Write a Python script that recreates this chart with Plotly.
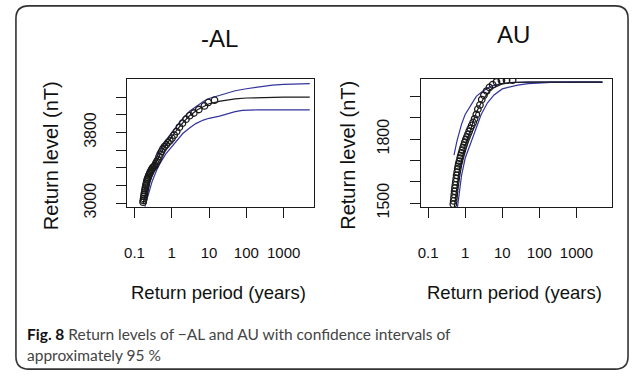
import plotly.graph_objects as go

W, H = 634, 384

# ---------------- data ----------------
# Left panel (-AL): empirical return levels
al_period = [0.170, 0.173, 0.176, 0.179, 0.182, 0.186, 0.190, 0.194, 0.198, 0.203,
             0.208, 0.213, 0.219, 0.225, 0.232, 0.239, 0.247, 0.256, 0.266, 0.277,
             0.289, 0.302, 0.317, 0.334, 0.353, 0.374, 0.398, 0.425, 0.455, 0.49,
             0.53, 0.58, 0.64, 0.71, 0.79, 0.89, 1.01, 1.16, 1.35, 1.6,
             1.93, 2.4, 3.0, 3.9, 5.3, 7.5, 9.5, 14]
al_level = [3010, 3030, 3050, 3075, 3095, 3115, 3140, 3160, 3180, 3200,
            3220, 3240, 3260, 3275, 3290, 3305, 3320, 3335, 3350, 3365,
            3380, 3395, 3405, 3415, 3425, 3450, 3470, 3490, 3525, 3555,
            3585, 3615, 3640, 3660, 3685, 3705, 3735, 3770, 3810, 3860,
            3905, 3950, 3990, 4020, 4060, 4100, 4140, 4165]

# Left panel fitted curve and confidence bounds
al_fit_period = [0.17, 0.2, 0.25, 0.3, 0.4, 0.5, 0.7, 1, 1.5, 2, 3, 5, 7, 10, 20, 30,
                 50, 100, 200, 500, 1000, 2000, 5000]
al_fit = [2990, 3100, 3250, 3360, 3480, 3560, 3660, 3750, 3850, 3910, 3990, 4060, 4095,
          4125, 4155, 4168, 4180, 4190, 4195, 4199, 4200, 4200, 4200]
al_upper = [3000, 3120, 3280, 3390, 3520, 3600, 3710, 3800, 3900, 3960, 4040, 4110, 4150,
            4185, 4225, 4250, 4272, 4295, 4315, 4335, 4345, 4350, 4354]
al_low_period = [0.19, 0.2, 0.25, 0.3, 0.4, 0.5, 0.7, 1, 1.6, 2, 3, 4.4, 7, 10, 19, 30,
                 50, 78, 100, 200, 1000, 5000]
al_lower = [2960, 2990, 3140, 3250, 3380, 3460, 3560, 3640, 3750, 3790, 3850, 3900, 3940,
            3960, 3985, 4010, 4035, 4050, 4053, 4055, 4055, 4055]

# Right panel (AU): empirical return levels
au_period = [0.48, 0.49, 0.50, 0.51, 0.52, 0.53, 0.545, 0.56, 0.575, 0.59,
             0.61, 0.63, 0.65, 0.67, 0.70, 0.73, 0.76, 0.80, 0.84, 0.88,
             0.93, 0.98, 1.04, 1.11, 1.19, 1.28, 1.38, 1.50, 1.64, 1.80,
             2.0, 2.2, 2.5, 2.8, 3.2, 3.8, 4.5, 5.5, 7.0, 9.5, 13, 19]
au_level = [1495, 1510, 1525, 1540, 1555, 1570, 1585, 1600, 1615, 1630,
            1645, 1660, 1672, 1684, 1696, 1710, 1722, 1735, 1748, 1760,
            1772, 1785, 1798, 1810, 1822, 1836, 1850, 1864, 1878, 1895,
            1915, 1940, 1960, 1985, 2005, 2025, 2042, 2055, 2068, 2074, 2076, 2076]

au_fit_period = [0.5, 0.55, 0.7, 1, 1.5, 2, 3, 5, 10, 20, 50, 100, 1000, 5000]
au_fit = [1470, 1530, 1660, 1770, 1865, 1925, 1985, 2035, 2058, 2065, 2067, 2067, 2067, 2067]
au_up_period = [0.5, 0.6, 0.8, 1, 1.5, 2, 3, 5, 10, 20, 50, 100, 1000, 5000]
au_upper = [1725, 1790, 1870, 1915, 1965, 2000, 2025, 2048, 2060, 2066, 2067, 2068, 2068, 2068]
au_low_period = [0.62, 0.7, 0.8, 1, 1.45, 2, 2.7, 4, 6, 10, 26, 50, 100, 200, 5000]
au_lower = [1480, 1560, 1630, 1710, 1790, 1860, 1915, 1970, 2007, 2035, 2053, 2060, 2064,
            2066, 2066]

x_ticks = [0.1, 1, 10, 100, 1000]
x_ticktext = ["0.1", "1", "10", "100", "1000"]
al_yticks = [3000, 3200, 3400, 3600, 3800, 4000, 4200]
al_yticktext = ["3000", "", "", "", "3800", "", ""]
au_yticks = [1500, 1600, 1700, 1800, 1900, 2000]
au_yticktext = ["1500", "", "", "1800", "", ""]

BLUE = "#34349c"
BLK = "#1a1a1a"
FONT = "Liberation Sans, Arial, sans-serif"

fig = go.Figure()


def add_panel(xa, ya, px, py, fp, fy, up_p, up, lo_p, lo):
    fig.add_trace(go.Scatter(x=up_p, y=up, mode="lines", line=dict(color=BLUE, width=1.2),
                             xaxis=xa, yaxis=ya, showlegend=False, hoverinfo="skip"))
    fig.add_trace(go.Scatter(x=lo_p, y=lo, mode="lines", line=dict(color=BLUE, width=1.2),
                             xaxis=xa, yaxis=ya, showlegend=False, hoverinfo="skip"))
    fig.add_trace(go.Scatter(x=fp, y=fy, mode="lines", line=dict(color=BLK, width=1.2),
                             xaxis=xa, yaxis=ya, showlegend=False, hoverinfo="skip"))
    fig.add_trace(go.Scatter(x=px, y=py, mode="markers",
                             marker=dict(symbol="circle-open", size=6.5, color=BLK,
                                         line=dict(width=1.3, color=BLK)),
                             xaxis=xa, yaxis=ya, showlegend=False))


add_panel("x", "y", al_period, al_level, al_fit_period, al_fit,
          al_fit_period, al_upper, al_low_period, al_lower)
add_panel("x2", "y2", au_period, au_level, au_fit_period, au_fit,
          au_up_period, au_upper, au_low_period, au_lower)

xcommon = dict(type="log", showgrid=False, zeroline=False, showline=True, mirror=True,
               linecolor=BLK, linewidth=1.3, ticks="outside", ticklen=10, tickwidth=1.3,
               tickcolor=BLK, tickvals=x_ticks, ticktext=x_ticktext,
               tickfont=dict(family=FONT, size=15, color="#111"), ticklabelstandoff=22)
ycommon = dict(showgrid=False, zeroline=False, showline=True, mirror=True,
               linecolor=BLK, linewidth=1.3, ticks="outside", ticklen=10, tickwidth=1.3,
               tickcolor=BLK, tickangle=-90,
               tickfont=dict(family=FONT, size=16, color="#111"), ticklabelstandoff=14)

ytop = 1 - 81 / H
ybot = 1 - 213 / H

fig.update_layout(
    width=W, height=H, margin=dict(l=0, r=0, t=0, b=0),
    paper_bgcolor="white", plot_bgcolor="white",
    xaxis=dict(xcommon, domain=[125 / W, 312 / W], range=[-1.19, 3.8], anchor="y"),
    yaxis=dict(ycommon, domain=[ybot, ytop], range=[2956, 4409], anchor="x",
               tickvals=al_yticks, ticktext=al_yticktext),
    xaxis2=dict(xcommon, domain=[420 / W, 612 / W], range=[-1.19, 3.96], anchor="y2"),
    yaxis2=dict(ycommon, domain=[ybot, ytop], range=[1482, 2083], anchor="x2",
                tickvals=au_yticks, ticktext=au_yticktext),
    showlegend=False,
)

ann = []


def A(text, x, y, size, angle=0, xanchor="center", color="#111"):
    ann.append(dict(text=text, x=x / W, y=1 - y / H, xref="paper", yref="paper",
                    showarrow=False, textangle=angle, xanchor=xanchor, yanchor="middle",
                    font=dict(family=FONT, size=size, color=color)))


A("-AL", 218, 40, 24)
A("AU", 513, 36, 24)
A("Return level (nT)", 49, 160, 20, angle=-90)
A("Return level (nT)", 347, 160, 20, angle=-90)
A("Return period (years)", 217, 301, 18.5)
A("Return period (years)", 514, 301, 18.5)

CFONT = "Lato, sans-serif"
ann.append(dict(text="<b style='color:#111'>Fig. 8</b> Return levels of \u2212AL and AU with confidence intervals of",
                x=22 / W, y=1 - 344 / H, xref="paper", yref="paper", showarrow=False,
                xanchor="left", yanchor="middle",
                font=dict(family=CFONT, size=15.5, color="#444444")))
ann.append(dict(text="approximately 95 %",
                x=22 / W, y=1 - 365 / H, xref="paper", yref="paper", showarrow=False,
                xanchor="left", yanchor="middle",
                font=dict(family=CFONT, size=15.5, color="#444444")))
fig.update_layout(annotations=ann)

# rounded border frame around the figure
x0, y0, x1, y1, r = 13, 6, 628, 380, 13


def P(x, y):
    return f"{x / W:.5f},{1 - y / H:.5f}"


path = (f"M {P(x0 + r, y0)} L {P(x1 - r, y0)} Q {P(x1, y0)} {P(x1, y0 + r)} "
        f"L {P(x1, y1 - r)} Q {P(x1, y1)} {P(x1 - r, y1)} "
        f"L {P(x0 + r, y1)} Q {P(x0, y1)} {P(x0, y1 - r)} "
        f"L {P(x0, y0 + r)} Q {P(x0, y0)} {P(x0 + r, y0)} Z")
fig.add_shape(type="path", path=path, xref="paper", yref="paper",
              line=dict(color="#333333", width=1.6))

fig.write_html("out.html")
